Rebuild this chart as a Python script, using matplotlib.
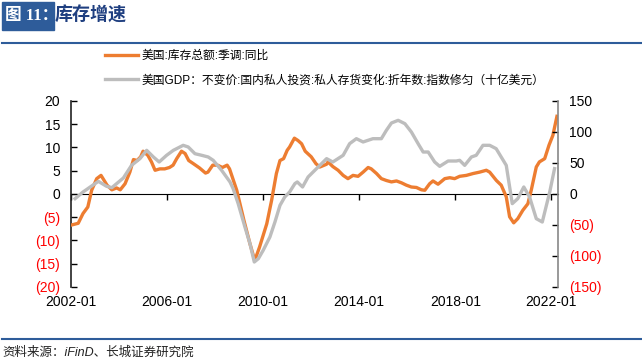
import matplotlib
matplotlib.use("Agg")
import matplotlib.pyplot as plt
from matplotlib.ticker import FuncFormatter
from matplotlib.patches import Rectangle

plt.rcParams['font.family'] = ['Liberation Sans', 'Noto Sans CJK SC']

# -----------------------------
# Data
# -----------------------------
# 美国:库存总额:季调:同比 (%), left axis
inv_t = [2002.0, 2002.3, 2002.5, 2002.7, 2002.86, 2003.07, 2003.25, 2003.5, 2003.7, 2003.9,
         2004.05, 2004.25, 2004.45, 2004.6, 2004.75, 2004.9, 2005.0, 2005.2, 2005.35, 2005.5,
         2005.7, 2005.9, 2006.1, 2006.25, 2006.4, 2006.6, 2006.75, 2006.9, 2007.1, 2007.35,
         2007.6, 2007.7, 2007.9, 2008.1, 2008.3, 2008.5, 2008.6, 2008.9, 2009.2, 2009.45,
         2009.65, 2009.85, 2010.15, 2010.35, 2010.55, 2010.7, 2010.85, 2011.0, 2011.1, 2011.3,
         2011.45, 2011.6, 2011.75, 2012.0, 2012.2, 2012.36, 2012.64, 2012.7, 2012.9, 2013.12,
         2013.33, 2013.53, 2013.74, 2013.95, 2014.16, 2014.37, 2014.5, 2014.72, 2014.92, 2015.13,
         2015.34, 2015.55, 2015.76, 2015.96, 2016.17, 2016.38, 2016.59, 2016.73, 2016.93, 2017.07,
         2017.28, 2017.56, 2017.77, 2017.97, 2018.18, 2018.46, 2018.74, 2019.01, 2019.29, 2019.43,
         2019.71, 2019.91, 2020.12, 2020.26, 2020.43, 2020.6, 2020.81, 2021.02, 2021.16, 2021.37,
         2021.5, 2021.72, 2021.9, 2022.06, 2022.23]
inv_yoy = [-6.7, -6.3, -4.2, -2.8, 0.8, 3.3, 4.0, 1.9, 0.9, 1.3,
           0.9, 2.2, 4.7, 7.4, 7.2, 8.0, 9.2, 8.3, 6.9, 5.1,
           5.4, 5.4, 5.7, 6.2, 7.6, 9.2, 8.7, 7.2, 6.5, 5.6,
           4.5, 4.7, 6.2, 6.2, 5.7, 6.2, 5.4, 0.8, -5.7, -10.7,
           -14.3, -11.4, -6.4, -1.4, 4.4, 7.2, 7.6, 9.4, 10.1, 12.0,
           11.5, 10.8, 9.2, 8.0, 6.5, 5.8, 6.4, 6.9, 5.9, 5.1,
           4.0, 3.3, 4.0, 3.8, 4.7, 5.7, 5.4, 4.4, 3.3, 2.9,
           2.6, 2.8, 2.4, 1.9, 1.5, 1.4, 0.9, 0.8, 2.2, 2.8,
           2.1, 3.3, 3.5, 3.3, 3.8, 4.0, 4.4, 4.7, 5.1, 4.7,
           2.9, 1.9, -0.6, -4.9, -6.2, -5.3, -3.5, -2.1, 0.8, 5.8,
           6.9, 7.6, 10.5, 12.6, 16.7]

# 美国GDP 私人存货变化 (十亿美元), right axis
gdp_t = [2002.17, 2002.5, 2002.8, 2003.14, 2003.48, 2003.7, 2003.9, 2004.18, 2004.52, 2004.87,
         2005.15, 2005.43, 2005.67, 2005.98, 2006.26, 2006.67, 2006.88, 2007.16, 2007.44, 2007.71,
         2007.92, 2008.27, 2008.62, 2008.75, 2008.96, 2009.24, 2009.45, 2009.63, 2009.8, 2010.0,
         2010.28, 2010.49, 2010.7, 2010.9, 2011.1, 2011.32, 2011.42, 2011.64, 2011.87, 2012.15,
         2012.36, 2012.64, 2012.9, 2013.33, 2013.6, 2013.88, 2014.16, 2014.57, 2014.92, 2015.13,
         2015.34, 2015.62, 2015.9, 2016.17, 2016.45, 2016.66, 2016.87, 2017.14, 2017.35, 2017.7,
         2018.04, 2018.18, 2018.39, 2018.67, 2018.87, 2019.15, 2019.43, 2019.7, 2020.12, 2020.37,
         2020.6, 2020.85, 2021.09, 2021.37, 2021.62, 2021.93, 2022.13]
gdp_inv = [-7.5, 3.2, 11.3, 20.4, 12.4, 10.2, 16.7, 25.8, 46.2, 57.0,
           70.4, 59.7, 51.6, 62.4, 70.4, 78.5, 75.8, 65.0, 62.4, 59.7,
           54.3, 38.2, 19.4, 8.6, -15.6, -53.2, -80.0, -109.7, -104.3, -90.9,
           -69.4, -45.2, -18.3, -4.8, 3.2, 16.7, 19.4, 11.3, 27.4, 38.2,
           46.2, 57.0, 51.6, 62.4, 81.2, 89.2, 83.9, 89.2, 89.2, 102.7,
           114.5, 118.8, 113.4, 100.0, 81.2, 67.7, 67.7, 51.6, 44.6, 53.2,
           53.2, 54.3, 46.2, 59.7, 62.4, 78.5, 78.5, 73.1, 46.2, -15.6,
           -7.5, 11.3, -4.8, -39.8, -45.2, 3.2, 40.9]

x_ticks = [2002, 2006, 2010, 2014, 2018, 2022]
x_labels = [f"{y}-01" for y in x_ticks]
left_ticks = [20, 15, 10, 5, 0, -5, -10, -15, -20]
right_ticks = [150, 100, 50, 0, -50, -100, -150]

label_inv = "美国:库存总额:季调:同比"
label_gdp = "美国GDP：不变价:国内私人投资:私人存货变化:折年数:指数修匀（十亿美元）"

ORANGE = "#ED7D31"
GRAY = "#BDBDBD"
BLUE = "#2E5C9A"

# -----------------------------
# Figure
# -----------------------------
fig = plt.figure(figsize=(6.42, 3.63), dpi=100)
ax = fig.add_axes([0.1106, 0.2094, 0.7584, 0.5124])
ax2 = ax.twinx()

l1, = ax.plot(inv_t, inv_yoy, color=ORANGE, lw=2.4, zorder=3)
l2, = ax2.plot(gdp_t, gdp_inv, color=GRAY, lw=2.4, zorder=3)

ax.set_xlim(2002, 2022.27)
ax.set_ylim(-20, 20)
ax2.set_ylim(-150, 150)
ax.set_yticks(left_ticks)
ax2.set_yticks(right_ticks)

fmt = FuncFormatter(lambda v, p: f"({abs(v):.0f})" if v < 0 else f"{v:.0f}")
ax.yaxis.set_major_formatter(fmt)
ax2.yaxis.set_major_formatter(fmt)

for a in (ax, ax2):
    a.spines['top'].set_visible(False)
    a.spines['bottom'].set_visible(False)
ax.spines['right'].set_visible(False)
ax2.spines['left'].set_visible(False)
ax.spines['left'].set_color("#222222")
ax2.spines['right'].set_color("#888888")
ax.spines['left'].set_linewidth(1.2)
ax2.spines['right'].set_linewidth(1.2)

ax.tick_params(axis='y', direction='in', length=4, width=1, labelsize=10, pad=8)
ax2.tick_params(axis='y', direction='in', length=4, width=1, labelsize=10, pad=8)

ax.set_xticks(x_ticks)
ax.set_xticklabels(x_labels)
ax.tick_params(axis='x', length=0, labelsize=10, pad=6)

# zero line acting as x axis, ticks pointing up
sec = ax.secondary_xaxis(0.5)
sec.set_xticks(x_ticks, labels=[""] * len(x_ticks))
sec.tick_params(axis='x', direction='in', length=4, width=1)
sec.spines['bottom'].set_linewidth(1.0)
sec.spines['bottom'].set_color("black")

fig.canvas.draw()
for lab in ax.get_yticklabels() + ax2.get_yticklabels():
    if lab.get_text().startswith("("):
        lab.set_color("red")

# legend
fig.legend([l1, l2], [label_inv, label_gdp], loc='upper left',
           bbox_to_anchor=(0.1636, 0.862), frameon=False, fontsize=8.5,
           handlelength=2.8, handletextpad=0.3, labelspacing=1.05,
           borderaxespad=0, borderpad=0)

# header
fig.patches.append(Rectangle((2 / 642, 1 - 30 / 363), 52 / 642, 28 / 363,
                             transform=fig.transFigure, color=BLUE, zorder=0))
fig.text(5 / 642, 1 - 16 / 363, "图 11：", color="white", fontsize=12,
         fontweight='bold', va='center', ha='left',
         family=['Liberation Serif', 'Noto Sans CJK SC'])
fig.text(55 / 642, 1 - 16 / 363, "库存增速", color="#1F3F80", fontsize=13,
         fontweight='bold', va='center', ha='left')
fig.add_artist(plt.Line2D([2 / 642, 1], [1 - 43 / 363] * 2, color=BLUE, lw=1.5,
                          transform=fig.transFigure))

# footer
fig.add_artist(plt.Line2D([2 / 642, 1], [1 - 339 / 363] * 2, color=BLUE, lw=1.5,
                          transform=fig.transFigure))
fig.text(2 / 642, 1 - 353 / 363, "资料来源：iFinD、长城证券研究院", fontsize=9,
         style='italic', va='center', ha='left', color="#222222")

fig.savefig("out.png", dpi=100)
